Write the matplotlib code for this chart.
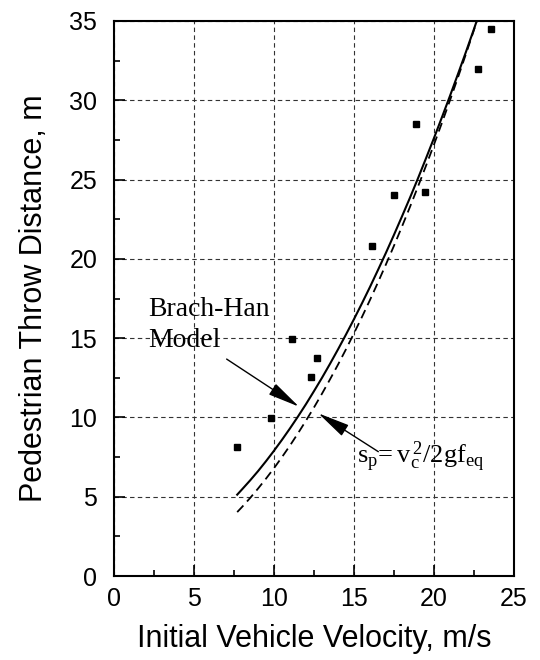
import matplotlib
matplotlib.use("Agg")
import matplotlib.pyplot as plt
from matplotlib.ticker import MultipleLocator

plt.rcParams['font.family'] = ['Liberation Sans', 'DejaVu Sans']
plt.rcParams['mathtext.fontset'] = 'custom'
plt.rcParams['mathtext.rm'] = 'Liberation Serif'
plt.rcParams['mathtext.it'] = 'Liberation Serif'

# Measured data points
vel_data = [7.67, 9.79, 11.14, 12.33, 12.69, 16.15, 17.5, 18.9, 19.44, 22.77, 23.56]
throw_data = [8.16, 9.98, 14.97, 12.55, 13.75, 20.8, 24.0, 28.5, 24.2, 32.0, 34.5]

# Brach-Han model curve (solid)
bh_vel = [7.7, 8.0, 8.5, 9.0, 9.5, 10.0, 10.5, 11.0, 11.5, 12.0, 12.5, 13.0, 13.5, 14.0,
          14.5, 15.0, 15.5, 16.0, 16.5, 17.0, 17.5, 18.0, 18.5, 19.0, 19.5, 20.0, 20.5,
          21.0, 21.5, 22.0, 22.5, 22.7]
bh_throw = [5.13, 5.46, 6.02, 6.61, 7.24, 7.90, 8.59, 9.31, 10.06, 10.84, 11.66, 12.50, 13.38,
            14.29, 15.23, 16.20, 17.20, 18.23, 19.30, 20.39, 21.52, 22.68, 23.86, 25.08, 26.34,
            27.62, 28.94, 30.28, 31.66, 33.06, 34.50, 35.09]

# s_p = v_c^2 / 2 g f_eq curve (dashed)
sp_vel = [7.7, 8.0, 8.5, 9.0, 9.5, 10.0, 10.5, 11.0, 11.5, 12.0, 12.5, 13.0, 13.5, 14.0,
          14.5, 15.0, 15.5, 16.0, 16.5, 17.0, 17.5, 18.0, 18.5, 19.0, 19.5, 20.0, 20.5,
          21.0, 21.5, 22.0, 22.5, 22.8]
sp_throw = [4.03, 4.35, 4.91, 5.51, 6.14, 6.80, 7.50, 8.23, 9.00, 9.80, 10.63, 11.50, 12.40,
            13.33, 14.30, 15.31, 16.34, 17.41, 18.52, 19.66, 20.83, 22.04, 23.28, 24.56, 25.87,
            27.21, 28.59, 30.00, 31.45, 32.93, 34.44, 35.36]

x_ticks = [0, 5, 10, 15, 20, 25]
y_ticks = [0, 5, 10, 15, 20, 25, 30, 35]

fig = plt.figure(figsize=(5.4, 6.6), dpi=100)
ax = fig.add_axes([114/540, 1 - 576/660, 400/540, 555/660])

ax.plot(bh_vel, bh_throw, color='black', lw=1.5)
ax.plot(sp_vel, sp_throw, color='black', lw=1.3, ls=(0, (5, 3)))
ax.plot(vel_data, throw_data, ls='none', marker='s', ms=5, color='black', clip_on=False, zorder=5)

ax.set_xlim(0, 25)
ax.set_ylim(0, 35)
ax.set_xticks(x_ticks)
ax.set_yticks(y_ticks)
ax.xaxis.set_minor_locator(MultipleLocator(2.5))
ax.yaxis.set_minor_locator(MultipleLocator(2.5))
ax.tick_params(which='both', direction='in', top=False, right=False, width=1.2, labelsize=18)
ax.tick_params(axis='x', pad=8)
ax.tick_params(axis='y', pad=12)
ax.tick_params(which='major', length=8)
ax.tick_params(which='minor', length=4.5)
for s in ax.spines.values():
    s.set_linewidth(1.5)

ax.grid(True, which='major', color='#333333', ls=(0, (4, 3)), lw=0.8)
ax.set_axisbelow(True)

ax.set_xlabel('Initial Vehicle Velocity, m/s', fontsize=22, labelpad=9)
ax.set_ylabel('Pedestrian Throw Distance, m', fontsize=22, labelpad=15)

serif = 'Liberation Serif'
ax.text(2.125, 16.40, 'Brach-Han', family=serif, fontsize=20, ha='left', va='baseline')
ax.text(2.125, 14.44, 'Model', family=serif, fontsize=20, ha='left', va='baseline')

astyle = '-|>,head_length=1.1,head_width=0.22'
ax.annotate('', xy=(11.56, 10.68), xytext=(7.04, 13.68),
            arrowprops=dict(arrowstyle=astyle, color='black', lw=1,
                            shrinkA=0, shrinkB=0, mutation_scale=18))
ax.annotate('', xy=(12.77, 10.26), xytext=(16.52, 7.84),
            arrowprops=dict(arrowstyle=astyle, color='black', lw=1,
                            shrinkA=0, shrinkB=0, mutation_scale=18))

ax.text(15.19, 7.13, r'$\mathrm{s_p\!= v_c^{\,2}/2gf_{eq}}$', fontsize=19,
        ha='left', va='baseline')

fig.savefig('out.png', dpi=100)
